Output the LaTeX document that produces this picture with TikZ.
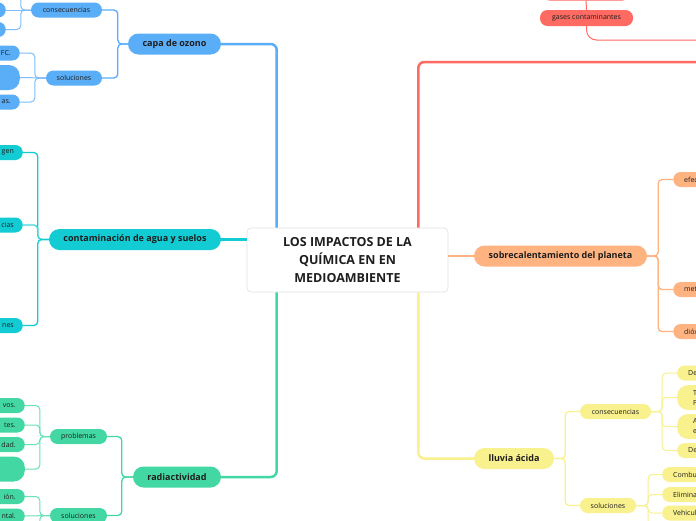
\documentclass[tikz,border=0pt]{standalone}
\usepackage{fontspec}
\setmainfont{Open Sans}
\usetikzlibrary{calc}
\definecolor{cblue}{HTML}{5AADF7}
\definecolor{ccyan}{HTML}{12CBD3}
\definecolor{cgreen}{HTML}{43D8A3}
\definecolor{cred}{HTML}{FF6B62}
\definecolor{corange}{HTML}{FFB381}
\definecolor{cyellow}{HTML}{F9F08E}
\definecolor{ctext}{HTML}{1E1E1E}
\tikzset{
 mainbox/.style={rounded corners=10.5pt, minimum height=21pt, inner sep=0pt, font=\fontsize{9}{11}\selectfont\bfseries, text=ctext},
 subbox/.style={rounded corners=7.5pt, minimum height=15pt, inner sep=0pt, font=\fontsize{7}{9}\selectfont, text=ctext},
 leafL/.style={rounded corners=7.5pt, minimum height=15pt, text width=48pt, inner xsep=9pt, inner ysep=0pt, align=right, anchor=east, font=\fontsize{7}{9}\selectfont, text=ctext},
 leafR/.style={rounded corners=7.5pt, minimum height=15pt, text width=48pt, inner xsep=11pt, inner ysep=0pt, align=left, anchor=west, font=\fontsize{7}{10}\selectfont, text=ctext},
 bigleaf/.style={minimum height=25pt, rounded corners=11pt},
 mainline/.style={line width=2.5pt, rounded corners=6pt},
 subline/.style={line width=1.3pt, rounded corners=4pt},
 leafline/.style={line width=1pt, rounded corners=4pt},
}
\begin{document}
\begin{tikzpicture}[x=1pt,y=-1pt]
\fill[white] (0,0) rectangle (696,520);
\useasboundingbox (0,0) rectangle (696,520);

% central
\node[draw=black!12, line width=0.6pt, fill=white, rounded corners=4pt, minimum width=201pt, minimum height=64pt, inner sep=0pt, align=center, font=\fontsize{12.5}{18}\selectfont\bfseries, text=ctext] (ctr) at (347.5,260) {LOS IMPACTOS DE LA\\QUÍMICA EN EN\\MEDIOAMBIENTE};

% ---- blue: capa de ozono
\node[mainbox, fill=cblue, minimum width=93pt] (capa) at (174.5,44) {capa de ozono};
\node[subbox, fill=cblue, minimum width=71pt] (cons1) at (66.5,10) {consecuencias};
\node[subbox, fill=cblue, minimum width=56pt] (sol1) at (74,78) {soluciones};
\node[leafL, fill=cblue] (a1) at (6,10) {};
\node[leafL, fill=cblue] (a2) at (6,29.5) {};
\coordinate (a0) at (6,-25);
\node[leafL, fill=cblue] (b1) at (20,53) {FC.};
\node[leafL, bigleaf, fill=cblue] (b2) at (20,77.5) {};
\node[leafL, fill=cblue] (b3) at (20,102) {as.};

% ---- cyan: contaminacion
\node[mainbox, fill=ccyan, minimum width=172pt] (cont) at (135,239.5) {contaminación de agua y suelos};
\node[leafL, fill=ccyan] (c1) at (23,152.5) {gen};
\node[leafL, fill=ccyan] (c2) at (23,225) {cias};
\node[leafL, fill=ccyan] (c3) at (23,325.5) {nes};

% ---- green: radiactividad
\node[mainbox, fill=cgreen, minimum width=88pt] (rad) at (177,477) {radiactividad};
\node[subbox, fill=cgreen, minimum width=57pt] (prob) at (78.5,436.5) {problemas};
\node[subbox, fill=cgreen, minimum width=57pt] (sol2) at (78.5,515.5) {soluciones};
\node[leafL, fill=cgreen] (d1) at (25,405.5) {vos.};
\node[leafL, fill=cgreen] (d2) at (25,425) {tes.};
\node[leafL, fill=cgreen] (d3) at (25,444.5) {dad.};
\node[leafL, bigleaf, fill=cgreen] (d4) at (25,469) {};
\node[leafL, fill=cgreen] (e1) at (25,496.5) {ión.};
\node[leafL, fill=cgreen] (e2) at (25,516) {ntal.};
\coordinate (e3) at (25,545);

% ---- orange: sobrecalentamiento
\node[mainbox, fill=corange, minimum width=173pt] (sob) at (560.5,256) {sobrecalentamiento del planeta};
\node[leafR, fill=corange] (f1) at (673,179.5) {efec};
\node[leafR, fill=corange] (f2) at (673,289.5) {met};
\node[leafR, fill=corange] (f3) at (673,331.5) {dióx};

% ---- yellow: lluvia acida
\node[mainbox, fill=cyellow, minimum width=80pt] (llu) at (514,458.5) {lluvia ácida};
\node[subbox, fill=cyellow, minimum width=71pt] (cons2) at (615.5,411.5) {consecuencias};
\node[subbox, fill=cyellow, minimum width=56pt] (sol3) at (608,505.5) {soluciones};
\node[leafR, fill=cyellow] (g1) at (677,373) {De};
\node[leafR, bigleaf, inner xsep=16pt, fill=cyellow] (g2) at (677,397.5) {T\\P};
\node[leafR, bigleaf, inner xsep=16pt, fill=cyellow] (g3) at (677,426.5) {A\\e};
\node[leafR, fill=cyellow] (g4) at (677,450.5) {De};
\node[leafR, fill=cyellow] (h1) at (662,474.5) {Combu};
\node[leafR, fill=cyellow] (h2) at (662,494.5) {Elimina};
\node[leafR, fill=cyellow] (h3) at (662,513) {Vehicul};
\coordinate (h4) at (662,545);

% ---- red
\coordinate (redM) at (720,62);
\coordinate (redC) at (720,40);
\node[subbox, fill=cred, minimum width=93pt, minimum height=16pt] (gas) at (586.5,18) {gases contaminantes};
\node[subbox, fill=cred, minimum width=88pt] (rtop) at (586,-7) {};

% ===== connectors
% main
\draw[mainline, cblue] ([xshift=30pt]ctr.north west) |- (capa.east);
\draw[mainline, ccyan] (cont.east) -- (cont.east -| ctr.west);
\draw[mainline, cgreen] ([xshift=30pt]ctr.south west) |- (rad.east);
\draw[mainline, cred] ([xshift=-30pt]ctr.north east) |- (redM);
\draw[mainline, corange] (sob.west) -- (sob.west -| ctr.east);
\draw[mainline, cyellow] ([xshift=-30pt]ctr.south east) |- (llu.west);

% blue
\draw[subline, cblue] (capa.west) -- ++(-10,0) |- (cons1.east);
\draw[subline, cblue] (capa.west) -- ++(-10,0) |- (sol1.east);
\draw[leafline, cblue!80] (cons1.west) -- (a1.east);
\draw[leafline, cblue!80] (cons1.west) -- ++(-10,0) |- (a2.east);
\draw[leafline, cblue!80] (cons1.west) -- ++(-10,0) |- (a0);
\draw[leafline, cblue!80] (sol1.west) -- ++(-11,0) |- (b1.east);
\draw[leafline, cblue!80] (sol1.west) -- (b2.east);
\draw[leafline, cblue!80] (sol1.west) -- ++(-11,0) |- (b3.east);

% cyan
\draw[subline, ccyan] (cont.west) -- ++(-11,0) |- (c1.east);
\draw[subline, ccyan!80] (cont.west) -- ++(-11,0) |- (c2.east);
\draw[subline, ccyan] (cont.west) -- ++(-11,0) |- (c3.east);

% green
\draw[subline, cgreen] (rad.west) -- ++(-11,0) |- (prob.east);
\draw[subline, cgreen] (rad.west) -- ++(-11,0) |- (sol2.east);
\draw[leafline, cgreen!80] (prob.west) -- ++(-10,0) |- (d1.east);
\draw[leafline, cgreen!80] (prob.west) -- ++(-10,0) |- (d2.east);
\draw[leafline, cgreen!80] (prob.west) -- ++(-10,0) |- (d3.east);
\draw[leafline, cgreen!80] (prob.west) -- ++(-10,0) |- (d4.east);
\draw[leafline, cgreen!80] (sol2.west) -- ++(-10,0) |- (e1.east);
\draw[leafline, cgreen!80] (sol2.west) -- (e2.east);
\draw[leafline, cgreen!80] (sol2.west) -- ++(-10,0) |- (e3);

% orange
\draw[subline, corange] (sob.east) -- ++(11,0) |- (f1.west);
\draw[subline, corange] (sob.east) -- ++(11,0) |- (f2.west);
\draw[subline, corange] (sob.east) -- ++(11,0) |- (f3.west);

% yellow
\draw[subline, cyellow] (llu.east) -- ++(11,0) |- (cons2.west);
\draw[subline, cyellow] (llu.east) -- ++(11,0) |- (sol3.west);
\draw[leafline, cyellow] (cons2.east) -- ++(11,0) |- (g1.west);
\draw[leafline, cyellow] (cons2.east) -- ++(11,0) |- (g2.west);
\draw[leafline, cyellow] (cons2.east) -- ++(11,0) |- (g3.west);
\draw[leafline, cyellow] (cons2.east) -- ++(11,0) |- (g4.west);
\draw[leafline, cyellow] (sol3.east) -- ++(12,0) |- (h1.west);
\draw[leafline, cyellow] (sol3.east) -- ++(12,0) |- (h2.west);
\draw[leafline, cyellow] (sol3.east) -- ++(12,0) |- (h3.west);
\draw[leafline, cyellow] (sol3.east) -- ++(12,0) |- (h4);

% red
\draw[leafline, cred, rounded corners=10pt] (redC) -| (gas.south);
\draw[leafline, cred] (gas.north) -- (rtop.south);
\end{tikzpicture}
\end{document}
